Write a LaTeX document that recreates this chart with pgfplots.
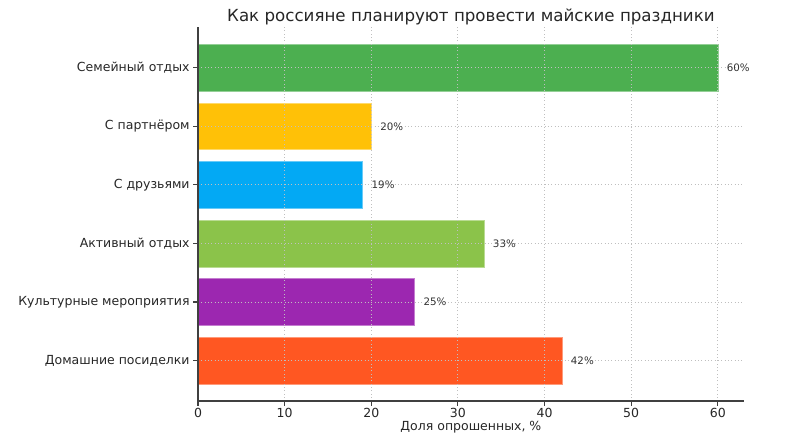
\documentclass[border=0pt]{standalone}
\usepackage{fontspec}
\setmainfont{DejaVu Sans}
\usepackage{pgfplots}
\pgfplotsset{compat=1.18}
\definecolor{cGreen}{HTML}{4CAF50}
\definecolor{cAmber}{HTML}{FFC107}
\definecolor{cBlue}{HTML}{03A9F4}
\definecolor{cLGreen}{HTML}{8BC34A}
\definecolor{cPurple}{HTML}{9C27B0}
\definecolor{cOrange}{HTML}{FF5722}
\definecolor{txt}{HTML}{262626}
\begin{document}
\begin{tikzpicture}[x=1pt,y=1pt]
\begin{axis}[
  name=ax,
  scale only axis,
  width=393pt, height=269pt,
  xbar, bar width=0.8, bar shift=0pt,
  xmin=0, xmax=63,
  ymin=-0.69, ymax=5.69,
  axis x line*=bottom, axis y line*=left,
  axis line style={draw=black!75, line width=0.8pt},
  x axis line style={-}, y axis line style={-},
  xtick={0,10,...,60},
  ytick={0,...,5},
  yticklabels={Домашние посиделки,Культурные мероприятия,Активный отдых,С друзьями,С партнёром,Семейный отдых},
  tick style={black!75, line width=0.8pt},
  tick align=outside, major tick length=3.5pt,
  xmajorgrids, ymajorgrids,
  grid style={dotted, black!25, line width=0.6pt},
  axis on top,
  /pgf/number format/assume math mode=true,
  yticklabel style={font=\fontsize{9}{11}\selectfont, text=txt, xshift=1pt},
  xticklabel style={font=\fontsize{9}{11}\selectfont, text=txt, yshift=2pt},
  xlabel={Доля опрошенных, \%},
  xlabel style={font=\fontsize{9}{11}\selectfont, text=txt, yshift=4.5pt},
  title={Как россияне планируют провести майские праздники},
  title style={font=\fontsize{12}{14}\selectfont, text=txt, yshift=-7.5pt},
  nodes near coords={\pgfmathprintnumber{\pgfplotspointmeta}\%},
  nodes near coords style={font=\fontsize{7.4}{9}\selectfont, text=black!80, anchor=west, xshift=3pt},
  point meta=explicit,
]
\addplot[fill=cOrange, draw=cOrange!60!white] coordinates {(42,0) [42]};
\addplot[fill=cPurple, draw=cPurple!60!white] coordinates {(25,1) [25]};
\addplot[fill=cLGreen, draw=cLGreen!60!white] coordinates {(33,2) [33]};
\addplot[fill=cBlue, draw=cBlue!60!white] coordinates {(19,3) [19]};
\addplot[fill=cAmber, draw=cAmber!60!white] coordinates {(20,4) [20]};
\addplot[fill=cGreen, draw=cGreen!60!white] coordinates {(60,5) [60]};
\end{axis}
\path (ax.south west) ++(-142.56pt,-28.8pt) rectangle ++(576.72pt,317.52pt);
\end{tikzpicture}
\end{document}
